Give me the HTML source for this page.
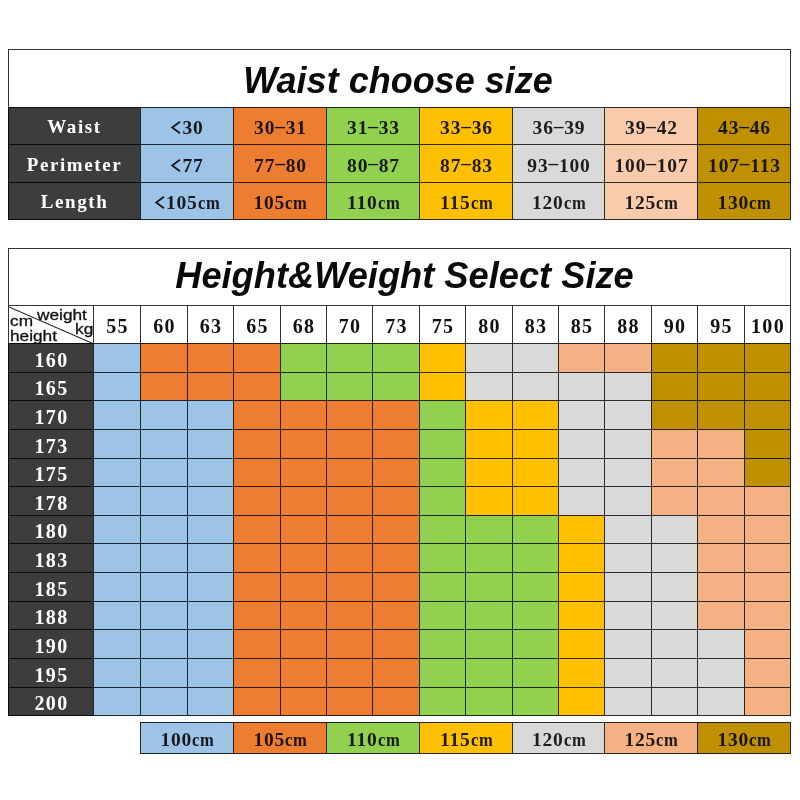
<!DOCTYPE html>
<html><head><meta charset="utf-8"><title>Size chart</title>
<style>
html,body{margin:0;padding:0;background:#fff;}
body{will-change:transform}
body{width:800px;height:800px;position:relative;overflow:hidden;font-family:"Liberation Serif",serif;}
.c{--ln:rgba(0,0,0,.8);position:absolute;box-sizing:border-box;border:0 solid var(--ln);border-left-width:1px;border-top-width:1px;display:flex;align-items:center;justify-content:center;white-space:nowrap;overflow:hidden;}
.title{font-family:"Liberation Sans",sans-serif;font-weight:bold;font-style:italic;font-size:36px;color:#0a0a0a;}
.title span{position:relative;top:2px;left:-1.5px;}
.t2{font-size:36.25px}
.t2 span{top:-1px;left:5px}
.lab{color:#fff;font-weight:bold;font-size:19px;letter-spacing:1.6px;}
.val{color:rgba(8,8,8,.9);font-weight:bold;font-size:19.5px;letter-spacing:0.8px;}
.val span,.lab span{position:relative}
.lab.r0 span{top:1px}
.lab.r1 span{top:1px}
.lab.r2 span{top:1px}
.val.r0 span{top:2px;left:.5px}
.val.r1 span{top:2px;left:.5px}
.val.r2 span{top:2px;left:.5px}
.d{position:relative;top:-2.5px}
.lt{vertical-align:baseline;margin-right:1px;overflow:visible}
.cm{font-style:normal;display:inline-block;transform:scaleX(.85);transform-origin:0 50%;margin-right:-4px}
.wv{color:#111;font-weight:bold;font-size:20px;letter-spacing:1.3px;}
.wv span{position:relative;top:1.5px;left:0.5px}
.hl{letter-spacing:1.3px;font-size:20px}
.hl span{top:2px;left:0.5px}
.val.lg span{top:2px;left:.5px}
.corner{display:block;font-family:"Liberation Sans",sans-serif;font-size:15px;color:#111;}
.k{position:absolute;line-height:16px;-webkit-text-stroke:.3px #111;transform:scaleX(1.15);transform-origin:0 50%}
</style></head><body>
<div class="c title" style="left:8px;top:49px;width:783px;height:58px;background:#fff;border-right:1px solid var(--ln);"><span>Waist choose size</span></div>
<div class="c lab r0" style="left:8px;top:107px;width:132px;height:37px;background:#3d3d3d;"><span>Waist</span></div>
<div class="c val r0" style="left:140px;top:107px;width:93px;height:37px;background:#9dc3e6;"><span><svg class="lt" width="10" height="13" viewBox="0 0 10 13"><polyline points="9,0.7 1.2,6.5 9,12.3" fill="none" stroke="currentColor" stroke-width="1.8"/></svg>30</span></div>
<div class="c val r0" style="left:233px;top:107px;width:93px;height:37px;background:#ed7d31;"><span>30<b class="d">&ndash;</b>31</span></div>
<div class="c val r0" style="left:326px;top:107px;width:93px;height:37px;background:#92d050;"><span>31<b class="d">&ndash;</b>33</span></div>
<div class="c val r0" style="left:419px;top:107px;width:93px;height:37px;background:#ffc000;"><span>33<b class="d">&ndash;</b>36</span></div>
<div class="c val r0" style="left:512px;top:107px;width:92px;height:37px;background:#d9d9d9;"><span>36<b class="d">&ndash;</b>39</span></div>
<div class="c val r0" style="left:604px;top:107px;width:93px;height:37px;background:#f8cbad;"><span>39<b class="d">&ndash;</b>42</span></div>
<div class="c val r0" style="left:697px;top:107px;width:94px;height:37px;background:#bf9000;border-right:1px solid var(--ln);"><span>43<b class="d">&ndash;</b>46</span></div>
<div class="c lab r1" style="left:8px;top:144px;width:132px;height:38px;background:#3d3d3d;"><span>Perimeter</span></div>
<div class="c val r1" style="left:140px;top:144px;width:93px;height:38px;background:#9dc3e6;"><span><svg class="lt" width="10" height="13" viewBox="0 0 10 13"><polyline points="9,0.7 1.2,6.5 9,12.3" fill="none" stroke="currentColor" stroke-width="1.8"/></svg>77</span></div>
<div class="c val r1" style="left:233px;top:144px;width:93px;height:38px;background:#ed7d31;"><span>77<b class="d">&ndash;</b>80</span></div>
<div class="c val r1" style="left:326px;top:144px;width:93px;height:38px;background:#92d050;"><span>80<b class="d">&ndash;</b>87</span></div>
<div class="c val r1" style="left:419px;top:144px;width:93px;height:38px;background:#ffc000;"><span>87<b class="d">&ndash;</b>83</span></div>
<div class="c val r1" style="left:512px;top:144px;width:92px;height:38px;background:#d9d9d9;"><span>93<b class="d">&ndash;</b>100</span></div>
<div class="c val r1" style="left:604px;top:144px;width:93px;height:38px;background:#f8cbad;"><span>100<b class="d">&ndash;</b>107</span></div>
<div class="c val r1" style="left:697px;top:144px;width:94px;height:38px;background:#bf9000;border-right:1px solid var(--ln);"><span>107<b class="d">&ndash;</b>113</span></div>
<div class="c lab r2" style="left:8px;top:182px;width:132px;height:38px;background:#3d3d3d;border-bottom:1px solid var(--ln);"><span>Length</span></div>
<div class="c val r2" style="left:140px;top:182px;width:93px;height:38px;background:#9dc3e6;border-bottom:1px solid var(--ln);"><span><svg class="lt" width="10" height="13" viewBox="0 0 10 13"><polyline points="9,0.7 1.2,6.5 9,12.3" fill="none" stroke="currentColor" stroke-width="1.8"/></svg>105<i class="cm">cm</i></span></div>
<div class="c val r2" style="left:233px;top:182px;width:93px;height:38px;background:#ed7d31;border-bottom:1px solid var(--ln);"><span>105<i class="cm">cm</i></span></div>
<div class="c val r2" style="left:326px;top:182px;width:93px;height:38px;background:#92d050;border-bottom:1px solid var(--ln);"><span>110<i class="cm">cm</i></span></div>
<div class="c val r2" style="left:419px;top:182px;width:93px;height:38px;background:#ffc000;border-bottom:1px solid var(--ln);"><span>115<i class="cm">cm</i></span></div>
<div class="c val r2" style="left:512px;top:182px;width:92px;height:38px;background:#d9d9d9;border-bottom:1px solid var(--ln);"><span>120<i class="cm">cm</i></span></div>
<div class="c val r2" style="left:604px;top:182px;width:93px;height:38px;background:#f8cbad;border-bottom:1px solid var(--ln);"><span>125<i class="cm">cm</i></span></div>
<div class="c val r2" style="left:697px;top:182px;width:94px;height:38px;background:#bf9000;border-right:1px solid var(--ln);border-bottom:1px solid var(--ln);"><span>130<i class="cm">cm</i></span></div>
<div class="c title t2" style="left:8px;top:248px;width:783px;height:57px;background:#fff;border-right:1px solid var(--ln);"><span>Height&amp;Weight Select Size</span></div>
<div class="c corner" style="left:8px;top:305px;width:85px;height:38px;background:#fff;"><svg width="86.00" height="39.00" style="position:absolute;left:0;top:0"><line x1="0" y1="1" x2="85.00" y2="38.00" stroke="#222" stroke-width="1.1"/></svg>
<span class="k" style="left:27.5px;top:0.5px">weight</span><span class="k" style="left:66px;top:15.2px">kg</span><span class="k" style="left:0.6px;top:6.8px">cm</span><span class="k" style="left:0.9px;top:22.3px">height</span></div>
<div class="c wv" style="left:93px;top:305px;width:47px;height:38px;background:#fff;"><span>55</span></div>
<div class="c wv" style="left:140px;top:305px;width:47px;height:38px;background:#fff;"><span>60</span></div>
<div class="c wv" style="left:187px;top:305px;width:46px;height:38px;background:#fff;"><span>63</span></div>
<div class="c wv" style="left:233px;top:305px;width:47px;height:38px;background:#fff;"><span>65</span></div>
<div class="c wv" style="left:280px;top:305px;width:46px;height:38px;background:#fff;"><span>68</span></div>
<div class="c wv" style="left:326px;top:305px;width:46px;height:38px;background:#fff;"><span>70</span></div>
<div class="c wv" style="left:372px;top:305px;width:47px;height:38px;background:#fff;"><span>73</span></div>
<div class="c wv" style="left:419px;top:305px;width:46px;height:38px;background:#fff;"><span>75</span></div>
<div class="c wv" style="left:465px;top:305px;width:47px;height:38px;background:#fff;"><span>80</span></div>
<div class="c wv" style="left:512px;top:305px;width:46px;height:38px;background:#fff;"><span>83</span></div>
<div class="c wv" style="left:558px;top:305px;width:46px;height:38px;background:#fff;"><span>85</span></div>
<div class="c wv" style="left:604px;top:305px;width:47px;height:38px;background:#fff;"><span>88</span></div>
<div class="c wv" style="left:651px;top:305px;width:46px;height:38px;background:#fff;"><span>90</span></div>
<div class="c wv" style="left:697px;top:305px;width:47px;height:38px;background:#fff;"><span>95</span></div>
<div class="c wv" style="left:744px;top:305px;width:47px;height:38px;background:#fff;border-right:1px solid var(--ln);"><span>100</span></div>
<div class="c lab hl" style="left:8px;top:343px;width:85px;height:29px;background:#3d3d3d;"><span>160</span></div>
<div class="c " style="left:93px;top:343px;width:47px;height:29px;background:#9dc3e6;"></div>
<div class="c " style="left:140px;top:343px;width:47px;height:29px;background:#ed7d31;"></div>
<div class="c " style="left:187px;top:343px;width:46px;height:29px;background:#ed7d31;"></div>
<div class="c " style="left:233px;top:343px;width:47px;height:29px;background:#ed7d31;"></div>
<div class="c " style="left:280px;top:343px;width:46px;height:29px;background:#92d050;"></div>
<div class="c " style="left:326px;top:343px;width:46px;height:29px;background:#92d050;"></div>
<div class="c " style="left:372px;top:343px;width:47px;height:29px;background:#92d050;"></div>
<div class="c " style="left:419px;top:343px;width:46px;height:29px;background:#ffc000;"></div>
<div class="c " style="left:465px;top:343px;width:47px;height:29px;background:#d9d9d9;"></div>
<div class="c " style="left:512px;top:343px;width:46px;height:29px;background:#d9d9d9;"></div>
<div class="c " style="left:558px;top:343px;width:46px;height:29px;background:#f4b183;"></div>
<div class="c " style="left:604px;top:343px;width:47px;height:29px;background:#f4b183;"></div>
<div class="c " style="left:651px;top:343px;width:46px;height:29px;background:#bf9000;"></div>
<div class="c " style="left:697px;top:343px;width:47px;height:29px;background:#bf9000;"></div>
<div class="c " style="left:744px;top:343px;width:47px;height:29px;background:#bf9000;border-right:1px solid var(--ln);"></div>
<div class="c lab hl" style="left:8px;top:372px;width:85px;height:28px;background:#3d3d3d;"><span>165</span></div>
<div class="c " style="left:93px;top:372px;width:47px;height:28px;background:#9dc3e6;"></div>
<div class="c " style="left:140px;top:372px;width:47px;height:28px;background:#ed7d31;"></div>
<div class="c " style="left:187px;top:372px;width:46px;height:28px;background:#ed7d31;"></div>
<div class="c " style="left:233px;top:372px;width:47px;height:28px;background:#ed7d31;"></div>
<div class="c " style="left:280px;top:372px;width:46px;height:28px;background:#92d050;"></div>
<div class="c " style="left:326px;top:372px;width:46px;height:28px;background:#92d050;"></div>
<div class="c " style="left:372px;top:372px;width:47px;height:28px;background:#92d050;"></div>
<div class="c " style="left:419px;top:372px;width:46px;height:28px;background:#ffc000;"></div>
<div class="c " style="left:465px;top:372px;width:47px;height:28px;background:#d9d9d9;"></div>
<div class="c " style="left:512px;top:372px;width:46px;height:28px;background:#d9d9d9;"></div>
<div class="c " style="left:558px;top:372px;width:46px;height:28px;background:#d9d9d9;"></div>
<div class="c " style="left:604px;top:372px;width:47px;height:28px;background:#d9d9d9;"></div>
<div class="c " style="left:651px;top:372px;width:46px;height:28px;background:#bf9000;"></div>
<div class="c " style="left:697px;top:372px;width:47px;height:28px;background:#bf9000;"></div>
<div class="c " style="left:744px;top:372px;width:47px;height:28px;background:#bf9000;border-right:1px solid var(--ln);"></div>
<div class="c lab hl" style="left:8px;top:400px;width:85px;height:29px;background:#3d3d3d;"><span>170</span></div>
<div class="c " style="left:93px;top:400px;width:47px;height:29px;background:#9dc3e6;"></div>
<div class="c " style="left:140px;top:400px;width:47px;height:29px;background:#9dc3e6;"></div>
<div class="c " style="left:187px;top:400px;width:46px;height:29px;background:#9dc3e6;"></div>
<div class="c " style="left:233px;top:400px;width:47px;height:29px;background:#ed7d31;"></div>
<div class="c " style="left:280px;top:400px;width:46px;height:29px;background:#ed7d31;"></div>
<div class="c " style="left:326px;top:400px;width:46px;height:29px;background:#ed7d31;"></div>
<div class="c " style="left:372px;top:400px;width:47px;height:29px;background:#ed7d31;"></div>
<div class="c " style="left:419px;top:400px;width:46px;height:29px;background:#92d050;"></div>
<div class="c " style="left:465px;top:400px;width:47px;height:29px;background:#ffc000;"></div>
<div class="c " style="left:512px;top:400px;width:46px;height:29px;background:#ffc000;"></div>
<div class="c " style="left:558px;top:400px;width:46px;height:29px;background:#d9d9d9;"></div>
<div class="c " style="left:604px;top:400px;width:47px;height:29px;background:#d9d9d9;"></div>
<div class="c " style="left:651px;top:400px;width:46px;height:29px;background:#bf9000;"></div>
<div class="c " style="left:697px;top:400px;width:47px;height:29px;background:#bf9000;"></div>
<div class="c " style="left:744px;top:400px;width:47px;height:29px;background:#bf9000;border-right:1px solid var(--ln);"></div>
<div class="c lab hl" style="left:8px;top:429px;width:85px;height:29px;background:#3d3d3d;"><span>173</span></div>
<div class="c " style="left:93px;top:429px;width:47px;height:29px;background:#9dc3e6;"></div>
<div class="c " style="left:140px;top:429px;width:47px;height:29px;background:#9dc3e6;"></div>
<div class="c " style="left:187px;top:429px;width:46px;height:29px;background:#9dc3e6;"></div>
<div class="c " style="left:233px;top:429px;width:47px;height:29px;background:#ed7d31;"></div>
<div class="c " style="left:280px;top:429px;width:46px;height:29px;background:#ed7d31;"></div>
<div class="c " style="left:326px;top:429px;width:46px;height:29px;background:#ed7d31;"></div>
<div class="c " style="left:372px;top:429px;width:47px;height:29px;background:#ed7d31;"></div>
<div class="c " style="left:419px;top:429px;width:46px;height:29px;background:#92d050;"></div>
<div class="c " style="left:465px;top:429px;width:47px;height:29px;background:#ffc000;"></div>
<div class="c " style="left:512px;top:429px;width:46px;height:29px;background:#ffc000;"></div>
<div class="c " style="left:558px;top:429px;width:46px;height:29px;background:#d9d9d9;"></div>
<div class="c " style="left:604px;top:429px;width:47px;height:29px;background:#d9d9d9;"></div>
<div class="c " style="left:651px;top:429px;width:46px;height:29px;background:#f4b183;"></div>
<div class="c " style="left:697px;top:429px;width:47px;height:29px;background:#f4b183;"></div>
<div class="c " style="left:744px;top:429px;width:47px;height:29px;background:#bf9000;border-right:1px solid var(--ln);"></div>
<div class="c lab hl" style="left:8px;top:458px;width:85px;height:28px;background:#3d3d3d;"><span>175</span></div>
<div class="c " style="left:93px;top:458px;width:47px;height:28px;background:#9dc3e6;"></div>
<div class="c " style="left:140px;top:458px;width:47px;height:28px;background:#9dc3e6;"></div>
<div class="c " style="left:187px;top:458px;width:46px;height:28px;background:#9dc3e6;"></div>
<div class="c " style="left:233px;top:458px;width:47px;height:28px;background:#ed7d31;"></div>
<div class="c " style="left:280px;top:458px;width:46px;height:28px;background:#ed7d31;"></div>
<div class="c " style="left:326px;top:458px;width:46px;height:28px;background:#ed7d31;"></div>
<div class="c " style="left:372px;top:458px;width:47px;height:28px;background:#ed7d31;"></div>
<div class="c " style="left:419px;top:458px;width:46px;height:28px;background:#92d050;"></div>
<div class="c " style="left:465px;top:458px;width:47px;height:28px;background:#ffc000;"></div>
<div class="c " style="left:512px;top:458px;width:46px;height:28px;background:#ffc000;"></div>
<div class="c " style="left:558px;top:458px;width:46px;height:28px;background:#d9d9d9;"></div>
<div class="c " style="left:604px;top:458px;width:47px;height:28px;background:#d9d9d9;"></div>
<div class="c " style="left:651px;top:458px;width:46px;height:28px;background:#f4b183;"></div>
<div class="c " style="left:697px;top:458px;width:47px;height:28px;background:#f4b183;"></div>
<div class="c " style="left:744px;top:458px;width:47px;height:28px;background:#bf9000;border-right:1px solid var(--ln);"></div>
<div class="c lab hl" style="left:8px;top:486px;width:85px;height:29px;background:#3d3d3d;"><span>178</span></div>
<div class="c " style="left:93px;top:486px;width:47px;height:29px;background:#9dc3e6;"></div>
<div class="c " style="left:140px;top:486px;width:47px;height:29px;background:#9dc3e6;"></div>
<div class="c " style="left:187px;top:486px;width:46px;height:29px;background:#9dc3e6;"></div>
<div class="c " style="left:233px;top:486px;width:47px;height:29px;background:#ed7d31;"></div>
<div class="c " style="left:280px;top:486px;width:46px;height:29px;background:#ed7d31;"></div>
<div class="c " style="left:326px;top:486px;width:46px;height:29px;background:#ed7d31;"></div>
<div class="c " style="left:372px;top:486px;width:47px;height:29px;background:#ed7d31;"></div>
<div class="c " style="left:419px;top:486px;width:46px;height:29px;background:#92d050;"></div>
<div class="c " style="left:465px;top:486px;width:47px;height:29px;background:#ffc000;"></div>
<div class="c " style="left:512px;top:486px;width:46px;height:29px;background:#ffc000;"></div>
<div class="c " style="left:558px;top:486px;width:46px;height:29px;background:#d9d9d9;"></div>
<div class="c " style="left:604px;top:486px;width:47px;height:29px;background:#d9d9d9;"></div>
<div class="c " style="left:651px;top:486px;width:46px;height:29px;background:#f4b183;"></div>
<div class="c " style="left:697px;top:486px;width:47px;height:29px;background:#f4b183;"></div>
<div class="c " style="left:744px;top:486px;width:47px;height:29px;background:#f4b183;border-right:1px solid var(--ln);"></div>
<div class="c lab hl" style="left:8px;top:515px;width:85px;height:28px;background:#3d3d3d;"><span>180</span></div>
<div class="c " style="left:93px;top:515px;width:47px;height:28px;background:#9dc3e6;"></div>
<div class="c " style="left:140px;top:515px;width:47px;height:28px;background:#9dc3e6;"></div>
<div class="c " style="left:187px;top:515px;width:46px;height:28px;background:#9dc3e6;"></div>
<div class="c " style="left:233px;top:515px;width:47px;height:28px;background:#ed7d31;"></div>
<div class="c " style="left:280px;top:515px;width:46px;height:28px;background:#ed7d31;"></div>
<div class="c " style="left:326px;top:515px;width:46px;height:28px;background:#ed7d31;"></div>
<div class="c " style="left:372px;top:515px;width:47px;height:28px;background:#ed7d31;"></div>
<div class="c " style="left:419px;top:515px;width:46px;height:28px;background:#92d050;"></div>
<div class="c " style="left:465px;top:515px;width:47px;height:28px;background:#92d050;"></div>
<div class="c " style="left:512px;top:515px;width:46px;height:28px;background:#92d050;"></div>
<div class="c " style="left:558px;top:515px;width:46px;height:28px;background:#ffc000;"></div>
<div class="c " style="left:604px;top:515px;width:47px;height:28px;background:#d9d9d9;"></div>
<div class="c " style="left:651px;top:515px;width:46px;height:28px;background:#d9d9d9;"></div>
<div class="c " style="left:697px;top:515px;width:47px;height:28px;background:#f4b183;"></div>
<div class="c " style="left:744px;top:515px;width:47px;height:28px;background:#f4b183;border-right:1px solid var(--ln);"></div>
<div class="c lab hl" style="left:8px;top:543px;width:85px;height:29px;background:#3d3d3d;"><span>183</span></div>
<div class="c " style="left:93px;top:543px;width:47px;height:29px;background:#9dc3e6;"></div>
<div class="c " style="left:140px;top:543px;width:47px;height:29px;background:#9dc3e6;"></div>
<div class="c " style="left:187px;top:543px;width:46px;height:29px;background:#9dc3e6;"></div>
<div class="c " style="left:233px;top:543px;width:47px;height:29px;background:#ed7d31;"></div>
<div class="c " style="left:280px;top:543px;width:46px;height:29px;background:#ed7d31;"></div>
<div class="c " style="left:326px;top:543px;width:46px;height:29px;background:#ed7d31;"></div>
<div class="c " style="left:372px;top:543px;width:47px;height:29px;background:#ed7d31;"></div>
<div class="c " style="left:419px;top:543px;width:46px;height:29px;background:#92d050;"></div>
<div class="c " style="left:465px;top:543px;width:47px;height:29px;background:#92d050;"></div>
<div class="c " style="left:512px;top:543px;width:46px;height:29px;background:#92d050;"></div>
<div class="c " style="left:558px;top:543px;width:46px;height:29px;background:#ffc000;"></div>
<div class="c " style="left:604px;top:543px;width:47px;height:29px;background:#d9d9d9;"></div>
<div class="c " style="left:651px;top:543px;width:46px;height:29px;background:#d9d9d9;"></div>
<div class="c " style="left:697px;top:543px;width:47px;height:29px;background:#f4b183;"></div>
<div class="c " style="left:744px;top:543px;width:47px;height:29px;background:#f4b183;border-right:1px solid var(--ln);"></div>
<div class="c lab hl" style="left:8px;top:572px;width:85px;height:29px;background:#3d3d3d;"><span>185</span></div>
<div class="c " style="left:93px;top:572px;width:47px;height:29px;background:#9dc3e6;"></div>
<div class="c " style="left:140px;top:572px;width:47px;height:29px;background:#9dc3e6;"></div>
<div class="c " style="left:187px;top:572px;width:46px;height:29px;background:#9dc3e6;"></div>
<div class="c " style="left:233px;top:572px;width:47px;height:29px;background:#ed7d31;"></div>
<div class="c " style="left:280px;top:572px;width:46px;height:29px;background:#ed7d31;"></div>
<div class="c " style="left:326px;top:572px;width:46px;height:29px;background:#ed7d31;"></div>
<div class="c " style="left:372px;top:572px;width:47px;height:29px;background:#ed7d31;"></div>
<div class="c " style="left:419px;top:572px;width:46px;height:29px;background:#92d050;"></div>
<div class="c " style="left:465px;top:572px;width:47px;height:29px;background:#92d050;"></div>
<div class="c " style="left:512px;top:572px;width:46px;height:29px;background:#92d050;"></div>
<div class="c " style="left:558px;top:572px;width:46px;height:29px;background:#ffc000;"></div>
<div class="c " style="left:604px;top:572px;width:47px;height:29px;background:#d9d9d9;"></div>
<div class="c " style="left:651px;top:572px;width:46px;height:29px;background:#d9d9d9;"></div>
<div class="c " style="left:697px;top:572px;width:47px;height:29px;background:#f4b183;"></div>
<div class="c " style="left:744px;top:572px;width:47px;height:29px;background:#f4b183;border-right:1px solid var(--ln);"></div>
<div class="c lab hl" style="left:8px;top:601px;width:85px;height:28px;background:#3d3d3d;"><span>188</span></div>
<div class="c " style="left:93px;top:601px;width:47px;height:28px;background:#9dc3e6;"></div>
<div class="c " style="left:140px;top:601px;width:47px;height:28px;background:#9dc3e6;"></div>
<div class="c " style="left:187px;top:601px;width:46px;height:28px;background:#9dc3e6;"></div>
<div class="c " style="left:233px;top:601px;width:47px;height:28px;background:#ed7d31;"></div>
<div class="c " style="left:280px;top:601px;width:46px;height:28px;background:#ed7d31;"></div>
<div class="c " style="left:326px;top:601px;width:46px;height:28px;background:#ed7d31;"></div>
<div class="c " style="left:372px;top:601px;width:47px;height:28px;background:#ed7d31;"></div>
<div class="c " style="left:419px;top:601px;width:46px;height:28px;background:#92d050;"></div>
<div class="c " style="left:465px;top:601px;width:47px;height:28px;background:#92d050;"></div>
<div class="c " style="left:512px;top:601px;width:46px;height:28px;background:#92d050;"></div>
<div class="c " style="left:558px;top:601px;width:46px;height:28px;background:#ffc000;"></div>
<div class="c " style="left:604px;top:601px;width:47px;height:28px;background:#d9d9d9;"></div>
<div class="c " style="left:651px;top:601px;width:46px;height:28px;background:#d9d9d9;"></div>
<div class="c " style="left:697px;top:601px;width:47px;height:28px;background:#f4b183;"></div>
<div class="c " style="left:744px;top:601px;width:47px;height:28px;background:#f4b183;border-right:1px solid var(--ln);"></div>
<div class="c lab hl" style="left:8px;top:629px;width:85px;height:29px;background:#3d3d3d;"><span>190</span></div>
<div class="c " style="left:93px;top:629px;width:47px;height:29px;background:#9dc3e6;"></div>
<div class="c " style="left:140px;top:629px;width:47px;height:29px;background:#9dc3e6;"></div>
<div class="c " style="left:187px;top:629px;width:46px;height:29px;background:#9dc3e6;"></div>
<div class="c " style="left:233px;top:629px;width:47px;height:29px;background:#ed7d31;"></div>
<div class="c " style="left:280px;top:629px;width:46px;height:29px;background:#ed7d31;"></div>
<div class="c " style="left:326px;top:629px;width:46px;height:29px;background:#ed7d31;"></div>
<div class="c " style="left:372px;top:629px;width:47px;height:29px;background:#ed7d31;"></div>
<div class="c " style="left:419px;top:629px;width:46px;height:29px;background:#92d050;"></div>
<div class="c " style="left:465px;top:629px;width:47px;height:29px;background:#92d050;"></div>
<div class="c " style="left:512px;top:629px;width:46px;height:29px;background:#92d050;"></div>
<div class="c " style="left:558px;top:629px;width:46px;height:29px;background:#ffc000;"></div>
<div class="c " style="left:604px;top:629px;width:47px;height:29px;background:#d9d9d9;"></div>
<div class="c " style="left:651px;top:629px;width:46px;height:29px;background:#d9d9d9;"></div>
<div class="c " style="left:697px;top:629px;width:47px;height:29px;background:#d9d9d9;"></div>
<div class="c " style="left:744px;top:629px;width:47px;height:29px;background:#f4b183;border-right:1px solid var(--ln);"></div>
<div class="c lab hl" style="left:8px;top:658px;width:85px;height:29px;background:#3d3d3d;"><span>195</span></div>
<div class="c " style="left:93px;top:658px;width:47px;height:29px;background:#9dc3e6;"></div>
<div class="c " style="left:140px;top:658px;width:47px;height:29px;background:#9dc3e6;"></div>
<div class="c " style="left:187px;top:658px;width:46px;height:29px;background:#9dc3e6;"></div>
<div class="c " style="left:233px;top:658px;width:47px;height:29px;background:#ed7d31;"></div>
<div class="c " style="left:280px;top:658px;width:46px;height:29px;background:#ed7d31;"></div>
<div class="c " style="left:326px;top:658px;width:46px;height:29px;background:#ed7d31;"></div>
<div class="c " style="left:372px;top:658px;width:47px;height:29px;background:#ed7d31;"></div>
<div class="c " style="left:419px;top:658px;width:46px;height:29px;background:#92d050;"></div>
<div class="c " style="left:465px;top:658px;width:47px;height:29px;background:#92d050;"></div>
<div class="c " style="left:512px;top:658px;width:46px;height:29px;background:#92d050;"></div>
<div class="c " style="left:558px;top:658px;width:46px;height:29px;background:#ffc000;"></div>
<div class="c " style="left:604px;top:658px;width:47px;height:29px;background:#d9d9d9;"></div>
<div class="c " style="left:651px;top:658px;width:46px;height:29px;background:#d9d9d9;"></div>
<div class="c " style="left:697px;top:658px;width:47px;height:29px;background:#d9d9d9;"></div>
<div class="c " style="left:744px;top:658px;width:47px;height:29px;background:#f4b183;border-right:1px solid var(--ln);"></div>
<div class="c lab hl" style="left:8px;top:687px;width:85px;height:29px;background:#3d3d3d;border-bottom:1px solid var(--ln);"><span>200</span></div>
<div class="c " style="left:93px;top:687px;width:47px;height:29px;background:#9dc3e6;border-bottom:1px solid var(--ln);"></div>
<div class="c " style="left:140px;top:687px;width:47px;height:29px;background:#9dc3e6;border-bottom:1px solid var(--ln);"></div>
<div class="c " style="left:187px;top:687px;width:46px;height:29px;background:#9dc3e6;border-bottom:1px solid var(--ln);"></div>
<div class="c " style="left:233px;top:687px;width:47px;height:29px;background:#ed7d31;border-bottom:1px solid var(--ln);"></div>
<div class="c " style="left:280px;top:687px;width:46px;height:29px;background:#ed7d31;border-bottom:1px solid var(--ln);"></div>
<div class="c " style="left:326px;top:687px;width:46px;height:29px;background:#ed7d31;border-bottom:1px solid var(--ln);"></div>
<div class="c " style="left:372px;top:687px;width:47px;height:29px;background:#ed7d31;border-bottom:1px solid var(--ln);"></div>
<div class="c " style="left:419px;top:687px;width:46px;height:29px;background:#92d050;border-bottom:1px solid var(--ln);"></div>
<div class="c " style="left:465px;top:687px;width:47px;height:29px;background:#92d050;border-bottom:1px solid var(--ln);"></div>
<div class="c " style="left:512px;top:687px;width:46px;height:29px;background:#92d050;border-bottom:1px solid var(--ln);"></div>
<div class="c " style="left:558px;top:687px;width:46px;height:29px;background:#ffc000;border-bottom:1px solid var(--ln);"></div>
<div class="c " style="left:604px;top:687px;width:47px;height:29px;background:#d9d9d9;border-bottom:1px solid var(--ln);"></div>
<div class="c " style="left:651px;top:687px;width:46px;height:29px;background:#d9d9d9;border-bottom:1px solid var(--ln);"></div>
<div class="c " style="left:697px;top:687px;width:47px;height:29px;background:#d9d9d9;border-bottom:1px solid var(--ln);"></div>
<div class="c " style="left:744px;top:687px;width:47px;height:29px;background:#f4b183;border-right:1px solid var(--ln);border-bottom:1px solid var(--ln);"></div>
<div class="c val lg" style="left:140px;top:722px;width:93px;height:32px;background:#9dc3e6;border-bottom:1px solid var(--ln);"><span>100<i class="cm">cm</i></span></div>
<div class="c val lg" style="left:233px;top:722px;width:93px;height:32px;background:#ed7d31;border-bottom:1px solid var(--ln);"><span>105<i class="cm">cm</i></span></div>
<div class="c val lg" style="left:326px;top:722px;width:93px;height:32px;background:#92d050;border-bottom:1px solid var(--ln);"><span>110<i class="cm">cm</i></span></div>
<div class="c val lg" style="left:419px;top:722px;width:93px;height:32px;background:#ffc000;border-bottom:1px solid var(--ln);"><span>115<i class="cm">cm</i></span></div>
<div class="c val lg" style="left:512px;top:722px;width:92px;height:32px;background:#d9d9d9;border-bottom:1px solid var(--ln);"><span>120<i class="cm">cm</i></span></div>
<div class="c val lg" style="left:604px;top:722px;width:93px;height:32px;background:#f4b183;border-bottom:1px solid var(--ln);"><span>125<i class="cm">cm</i></span></div>
<div class="c val lg" style="left:697px;top:722px;width:94px;height:32px;background:#bf9000;border-right:1px solid var(--ln);border-bottom:1px solid var(--ln);"><span>130<i class="cm">cm</i></span></div>
</body></html>
